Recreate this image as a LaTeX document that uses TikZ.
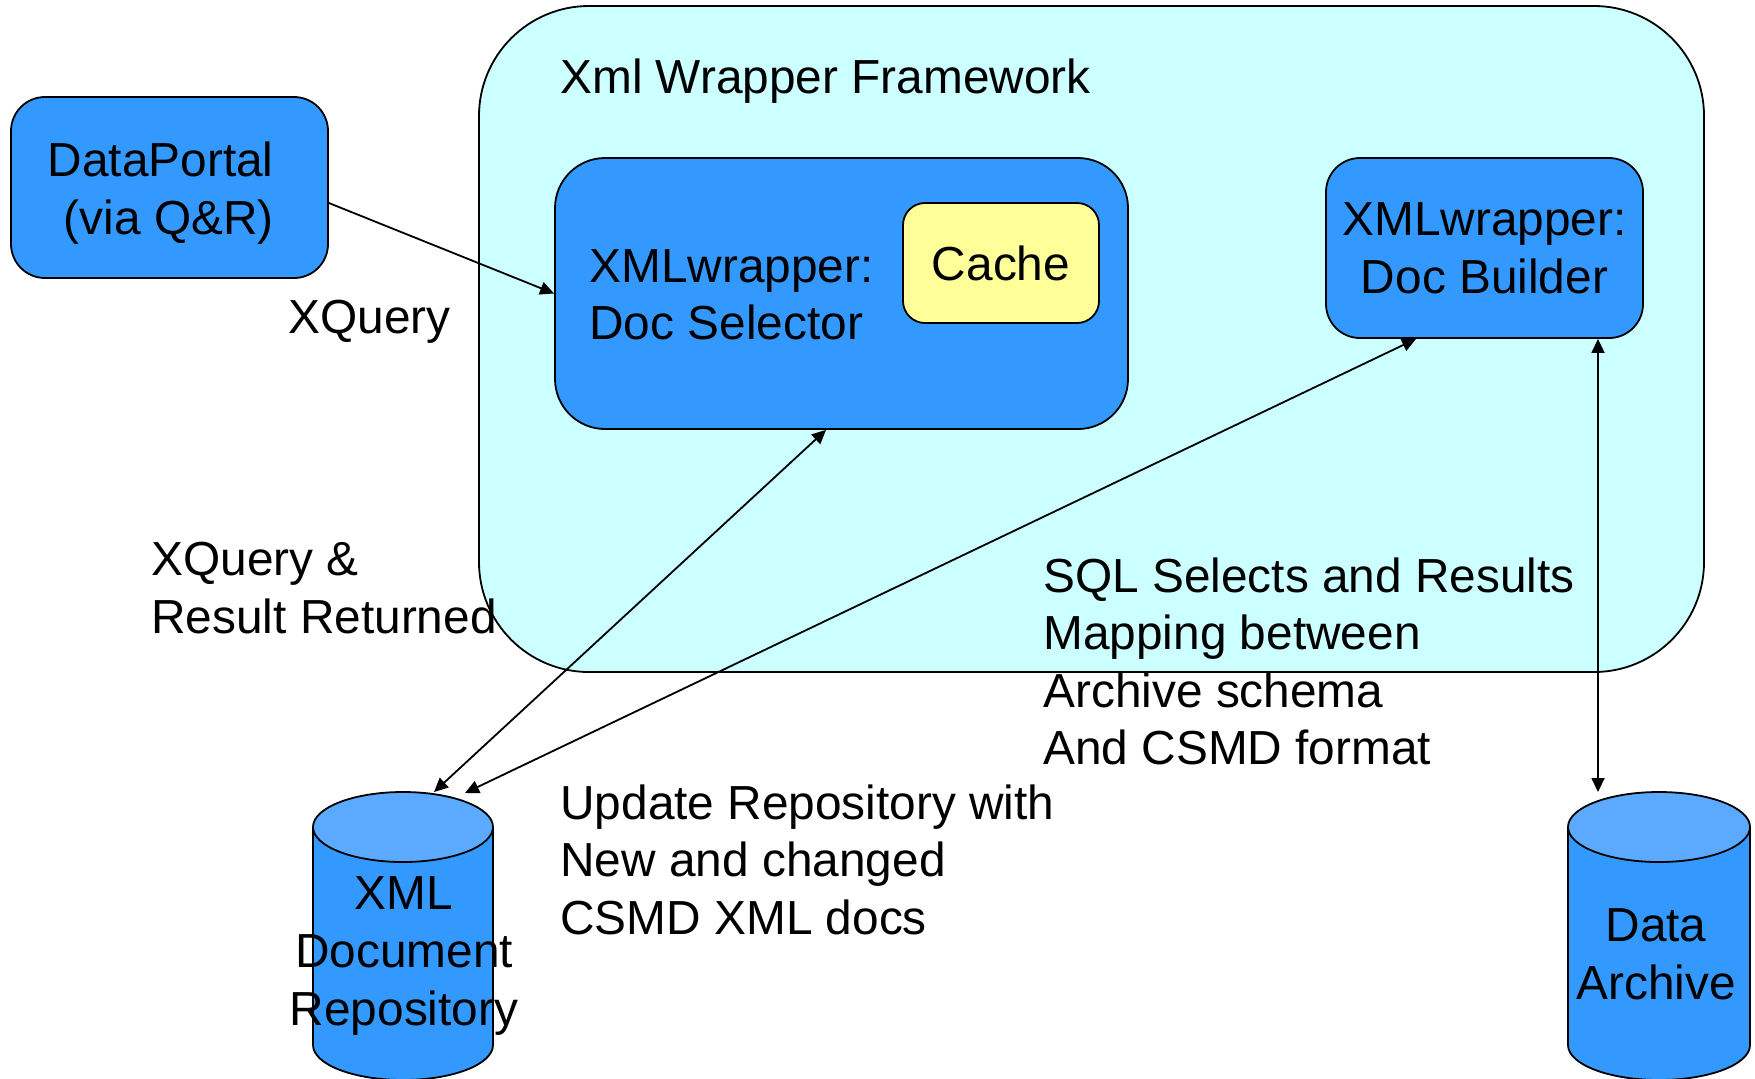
\documentclass[tikz,border=0pt]{standalone}
\usepackage{fontspec}
\setmainfont{Liberation Sans}
\usetikzlibrary{arrows.meta,calc}
\definecolor{boxblue}{HTML}{3399FF}
\definecolor{cyltop}{HTML}{5CAAFF}
\definecolor{frameblue}{HTML}{CCFFFF}
\definecolor{cachey}{HTML}{FFFF99}
\begin{document}
\begin{tikzpicture}[x=0.5pt,y=-0.5pt,
  every node/.style={font=\fontsize{23.9pt}{28.8pt}\selectfont},
  bluebox/.style={draw, line width=0.9pt, fill=boxblue, align=center, inner sep=0pt},
  lbl/.style={align=left, anchor=north west, inner sep=0pt},
  cyl/.style={line width=0.9pt},
  conn/.style={line width=0.9pt, -{Triangle[length=7pt,width=6.5pt]}},
  biconn/.style={line width=0.9pt, {Triangle[length=7pt,width=6.5pt]}-{Triangle[length=7pt,width=6.5pt]}}]
\useasboundingbox (0,0) rectangle (1755,1078);

% framework
\node[draw, line width=0.9pt, fill=frameblue, rounded corners=55pt,
      minimum width=612.5pt, minimum height=333pt, inner sep=0pt] (fw) at (1091.5,339) {};
\node[lbl] (title) at (560,58) {Xml Wrapper Framework};

% boxes
\node[bluebox, rounded corners=17pt, minimum width=158.5pt, minimum height=90.5pt] (portal) at (169.5,187.5) {};
\node[align=right, anchor=east, inner sep=0pt] (portaltext) at (274,193) {DataPortal\\(via Q\&R)};
\node[bluebox, rounded corners=25pt, minimum width=286.5pt, minimum height=135.5pt] (sel) at (841.5,293.5) {};
\node[lbl] (seltext) at (589,249) {XMLwrapper:\\Doc Selector};
\node[draw, line width=0.9pt, fill=cachey, rounded corners=11pt, minimum width=98pt,
      minimum height=60pt, inner sep=0pt] (cache) at (1001,263) {Cache};
\node[bluebox, rounded corners=17pt, minimum width=158.5pt, minimum height=90pt] (bld) at (1484.5,248) {XMLwrapper:\\Doc Builder};

% cylinder: XML repository
\filldraw[cyl, fill=boxblue] (403,1045) ellipse [x radius=90, y radius=35];
\fill[boxblue] (313,827) rectangle (493,1045);
\draw[cyl] (313,827) -- (313,1045) (493,827) -- (493,1045);
\filldraw[cyl, fill=cyltop] (403,827) ellipse [x radius=90, y radius=35];
\node[align=center, inner sep=0pt] (repo) at (404,956) {XML\\Document\\Repository};

% cylinder: Data Archive
\filldraw[cyl, fill=boxblue] (1659,1045) ellipse [x radius=91, y radius=35];
\fill[boxblue] (1568,827) rectangle (1750,1045);
\draw[cyl] (1568,827) -- (1568,1045) (1750,827) -- (1750,1045);
\filldraw[cyl, fill=cyltop] (1659,827) ellipse [x radius=91, y radius=35];
\node[align=center, inner sep=0pt] (arch) at (1656,954) {Data\\Archive};

\coordinate (repoA) at (434,792);
\coordinate (repoB) at (465,793);
\coordinate (archA) at (1598,792);

% connectors
\draw[conn] ($(portal.east)+(0,15.5)$) -- (sel.west);
\draw[biconn] ($(sel.south)+(-15.5,0)$) -- (repoA);
\draw[biconn] ($(bld.south)+(-68.5,0)$) -- (repoB);
\draw[biconn] ($(bld.south)+(113.5,0)$) -- (archA);

% labels
\node[lbl] (xq) at (288,300) {XQuery};
\node[lbl] (xqr) at (151,542) {XQuery \&\\Result Returned};
\node[lbl] (sql) at (1043,557) {SQL Selects and Results\\Mapping between\\Archive schema\\And CSMD format};
\node[lbl] (upd) at (560,784) {Update Repository with\\New and changed\\CSMD XML docs};
\end{tikzpicture}
\end{document}
